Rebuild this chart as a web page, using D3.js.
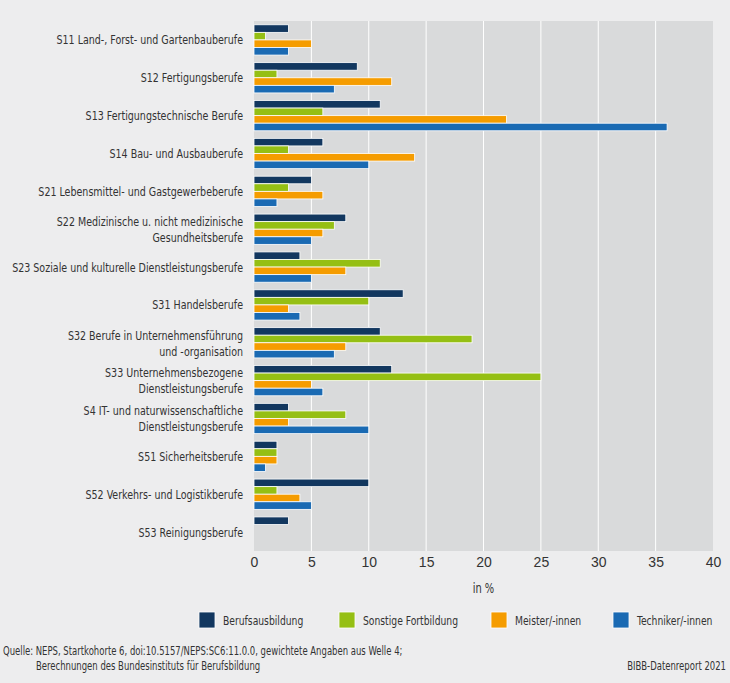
<!DOCTYPE html>
<html>
<head>
<meta charset="utf-8">
<script src="https://cdn.jsdelivr.net/npm/d3@7"></script>
<style>
  body { margin: 0; background: #ededee; }
  svg { display: block; font-family: "DejaVu Sans Condensed", "DejaVu Sans", sans-serif; font-stretch: condensed; }
</style>
</head>
<body>
<div id="chart"></div>
<script>
// Berufssegmente
const categories = [
    ['S11 Land-, Forst- und Gartenbauberufe'],
    ['S12 Fertigungsberufe'],
    ['S13 Fertigungstechnische Berufe'],
    ['S14 Bau- und Ausbauberufe'],
    ['S21 Lebensmittel- und Gastgewerbeberufe'],
    ['S22 Medizinische u. nicht medizinische', 'Gesundheitsberufe'],
    ['S23 Soziale und kulturelle Dienstleistungsberufe'],
    ['S31 Handelsberufe'],
    ['S32 Berufe in Unternehmensführung', 'und -organisation'],
    ['S33 Unternehmensbezogene', 'Dienstleistungsberufe'],
    ['S4 IT- und naturwissenschaftliche', 'Dienstleistungsberufe'],
    ['S51 Sicherheitsberufe'],
    ['S52 Verkehrs- und Logistikberufe'],
    ['S53 Reinigungsberufe']
];

const seriesNames = ['Berufsausbildung', 'Sonstige Fortbildung', 'Meister/-innen', 'Techniker/-innen'];

const berufsausbildung    = [3, 9, 11, 6, 5, 8, 4, 13, 11, 12, 3, 2, 10, 3];
const sonstigeFortbildung = [1, 2, 6, 3, 3, 7, 11, 10, 19, 25, 8, 2, 2, 0];
const meister             = [5, 12, 22, 14, 6, 6, 8, 3, 8, 5, 3, 2, 4, 0];
const techniker           = [3, 7, 36, 10, 2, 5, 5, 4, 7, 6, 10, 1, 5, 0];

const xTicks = [0, 5, 10, 15, 20, 25, 30, 35, 40];

const colors = ['#12375f', '#95bf14', '#f59c00', '#1a6ab3'];

const width = 730, height = 683;
const margin = { top: 21, right: 17, bottom: 132, left: 254 };
const innerW = width - margin.left - margin.right;
const innerH = height - margin.top - margin.bottom;

const svg = d3.select('#chart')
    .append('svg')
    .attr('width', width)
    .attr('height', height);

svg.append('rect')
    .attr('width', width)
    .attr('height', height)
    .attr('fill', '#ededee');

const g = svg.append('g')
    .attr('transform', `translate(${margin.left},${margin.top})`);

const xScale = d3.scaleLinear().domain([0, 40]).range([0, innerW]);

const yScale = d3.scaleBand()
    .domain(d3.range(categories.length))
    .range([0, innerH])
    .paddingInner(0.2)
    .paddingOuter(0.1);

const ySub = d3.scaleBand()
    .domain(d3.range(seriesNames.length))
    .range([0, yScale.bandwidth()]);

// plot background
g.append('rect')
    .attr('width', innerW)
    .attr('height', innerH)
    .attr('fill', '#d9dadb');

// grid lines
g.selectAll('.grid')
    .data(xTicks.slice(1, -1))
    .join('line')
    .attr('x1', d => xScale(d))
    .attr('x2', d => xScale(d))
    .attr('y1', 0)
    .attr('y2', innerH)
    .attr('stroke', '#ffffff')
    .attr('stroke-width', 1);

// bars
const allSeries = [berufsausbildung, sonstigeFortbildung, meister, techniker];
const rows = [];
categories.forEach((c, i) => {
    allSeries.forEach((s, j) => {
        if (s[i] > 0) rows.push({ cat: i, ser: j, value: s[i] });
    });
});

g.selectAll('.bar')
    .data(rows)
    .join('rect')
    .attr('x', xScale(0))
    .attr('y', d => yScale(d.cat) + ySub(d.ser))
    .attr('width', d => xScale(d.value) - xScale(0))
    .attr('height', ySub.bandwidth())
    .attr('fill', d => colors[d.ser])
    .attr('stroke', '#ffffff')
    .attr('stroke-width', 0.8);

// category labels
const labels = g.selectAll('.cat')
    .data(categories)
    .join('text')
    .attr('class', 'cat squeeze')
    .attr('text-anchor', 'end')
    .attr('fill', '#333')
    .attr('font-size', 13)
    .attr('x', -11)
    .attr('y', (d, i) => yScale(i) + yScale.bandwidth() / 2);

labels.selectAll('tspan')
    .data(d => d.map((t, k) => ({ t, k, n: d.length })))
    .join('tspan')
    .attr('x', -11)
    .attr('dy', d => d.k === 0 ? (d.n === 1 ? '0.35em' : '-0.25em') : 16)
    .text(d => d.t);

// x axis
const xAxis = g.append('g')
    .attr('transform', `translate(0,${innerH})`)
    .call(d3.axisBottom(xScale).tickValues(xTicks).tickSize(0).tickPadding(6));
xAxis.select('.domain').remove();
xAxis.selectAll('text')
    .attr('font-family', 'inherit')
    .attr('font-size', 14)
    .attr('fill', '#333');

g.append('text')
    .attr('class', 'squeeze')
    .attr('x', innerW / 2)
    .attr('y', innerH + 42)
    .attr('text-anchor', 'middle')
    .attr('font-size', 13.5)
    .attr('fill', '#333')
    .text('in %');

// legend
const legendX = [199, 339, 491, 613];
const legend = svg.append('g')
    .selectAll('g')
    .data(seriesNames)
    .join('g')
    .attr('transform', (d, i) => `translate(${legendX[i]},612)`);

legend.append('rect')
    .attr('width', 16)
    .attr('height', 16)
    .attr('fill', (d, i) => colors[i])
    .attr('stroke', '#ffffff')
    .attr('stroke-width', 0.8);

legend.append('text')
    .attr('class', 'squeeze')
    .attr('x', 24)
    .attr('y', 13)
    .attr('font-size', 12.6)
    .attr('fill', '#333')
    .text(d => d);

// source
const foot = svg.append('g').attr('font-size', 11.6).attr('fill', '#333');
foot.append('text')
    .attr('class', 'squeeze')
    .attr('x', 3)
    .attr('y', 655)
    .text('Quelle: NEPS, Startkohorte 6, doi:10.5157/NEPS:SC6:11.0.0, gewichtete Angaben aus Welle 4;');
foot.append('text')
    .attr('class', 'squeeze')
    .attr('x', 36)
    .attr('y', 670)
    .text('Berechnungen des Bundesinstituts für Berufsbildung');
foot.append('text')
    .attr('class', 'squeeze')
    .attr('x', 726)
    .attr('y', 670)
    .attr('text-anchor', 'end')
    .text('BIBB-Datenreport 2021');

// the original uses a very narrow typeface: squeeze text horizontally
const ref = labels.filter((d, i) => i === 6).node();
const k = 231 / ref.getComputedTextLength();
svg.selectAll('text.squeeze').each(function () {
    const x = +this.getAttribute('x') || 0;
    d3.select(this).attr('transform', `translate(${x},0) scale(${k},1) translate(${-x},0)`);
});
</script>
</body>
</html>
